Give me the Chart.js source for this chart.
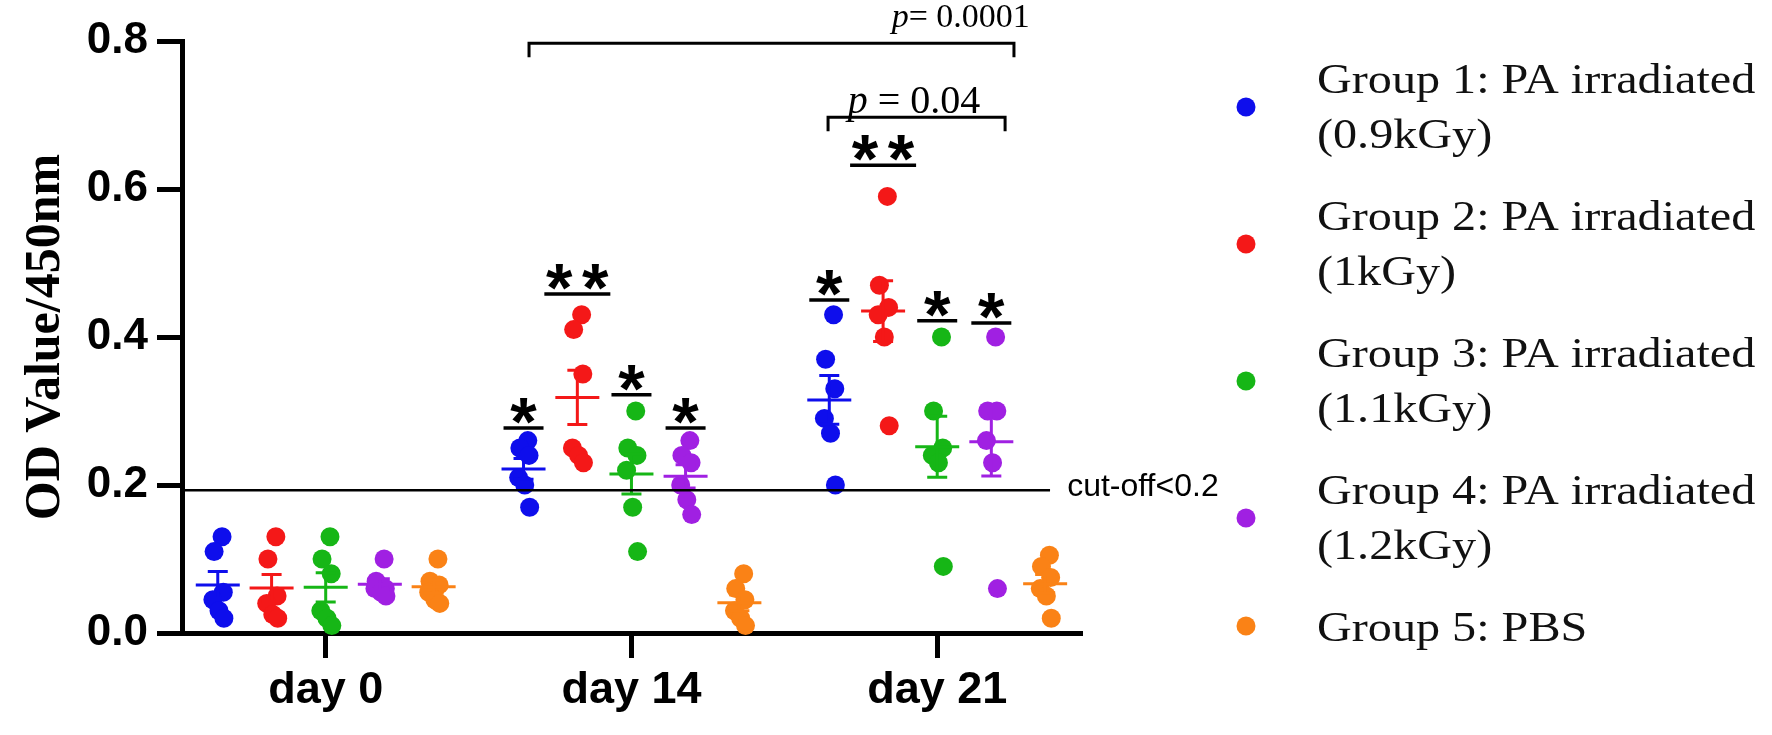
<!DOCTYPE html>
<html>
<head>
<meta charset="utf-8">
<script src="https://cdn.jsdelivr.net/npm/chart.js@4.4.1/dist/chart.umd.min.js"></script>
<style>
  html, body { margin: 0; padding: 0; background: #fff; }
  canvas { display: block; }
</style>
</head>
<body>
<canvas id="odChart" width="1772" height="735"></canvas>
<script>
// days on the x axis
const dayLabels = ['day 0', 'day 14', 'day 21'];
const yTicks = [0, 0.2, 0.4, 0.6, 0.8];

const groupNames = [
  ['Group 1: PA irradiated', '(0.9kGy)'],
  ['Group 2: PA irradiated', '(1kGy)'],
  ['Group 3: PA irradiated', '(1.1kGy)'],
  ['Group 4: PA irradiated', '(1.2kGy)'],
  ['Group 5: PBS']
];
const groupColors = ['#0e0eec', '#f41818', '#16b616', '#a020e2', '#fa8216'];

// OD values per group: [day 0, day 14, day 21], 6 mice each
const group1 = [[0.13, 0.11, 0.055, 0.045, 0.03, 0.02], [0.26, 0.25, 0.24, 0.21, 0.20, 0.17], [0.43, 0.37, 0.33, 0.29, 0.27, 0.20]];
const group2 = [[0.13, 0.10, 0.05, 0.04, 0.025, 0.02], [0.43, 0.41, 0.35, 0.25, 0.24, 0.23], [0.59, 0.47, 0.44, 0.43, 0.40, 0.28]];
const group3 = [[0.13, 0.10, 0.08, 0.03, 0.02, 0.01], [0.30, 0.25, 0.24, 0.22, 0.17, 0.11], [0.40, 0.30, 0.25, 0.24, 0.23, 0.09]];
const group4 = [[0.10, 0.07, 0.06, 0.06, 0.055, 0.05], [0.26, 0.24, 0.23, 0.20, 0.18, 0.16], [0.40, 0.30, 0.30, 0.26, 0.23, 0.06]];
const group5 = [[0.10, 0.07, 0.065, 0.055, 0.045, 0.04], [0.08, 0.06, 0.045, 0.03, 0.02, 0.01], [0.105, 0.09, 0.075, 0.06, 0.05, 0.02]];
const groups = [group1, group2, group3, group4, group5];

const cutoff = 0.193;

// significance marks (vs PBS)
const sigDay = [1, 1, 1, 1, 2, 2, 2, 2];
const sigGroup = [0, 1, 2, 3, 0, 1, 2, 3];
const sigLevel = [0.277, 0.458, 0.322, 0.277, 0.45, 0.632, 0.422, 0.419];
const sigStars = [1, 2, 1, 1, 1, 2, 1, 1];

// comparison brackets
const bracketFrom = [0.665, 1.643];
const bracketTo = [2.251, 2.222];
const bracketLevel = [0.797, 0.697];
const bracketText = ['0.0001', '0.04'];

// layout helpers
const groupOffset = [-0.353, -0.177, 0, 0.177, 0.353];
const jitter = [0.014, -0.012, 0.018, -0.016, 0.004, 0.02];

function mean(a) { return a.reduce((s, v) => s + v, 0) / a.length; }
function sem(a) {
  const m = mean(a);
  const sd = Math.sqrt(a.reduce((s, v) => s + (v - m) * (v - m), 0) / (a.length - 1));
  return sd / Math.sqrt(a.length);
}

const datasets = groups.map((g, gi) => ({
  label: groupNames[gi].join(' '),
  data: g.flatMap((vals, di) => vals.map((v, i) => ({ x: di + groupOffset[gi] + jitter[i], y: v }))),
  backgroundColor: groupColors[gi],
  borderWidth: 0,
  pointRadius: 9.5,
  clip: false
}));

const meanSem = {
  id: 'meanSem',
  afterDatasetsDraw(chart) {
    const { ctx, scales: { x, y } } = chart;
    ctx.save();
    ctx.lineWidth = 3;
    groups.forEach((g, gi) => {
      ctx.strokeStyle = groupColors[gi];
      g.forEach((vals, di) => {
        const cx = x.getPixelForValue(di + groupOffset[gi]);
        const m = mean(vals), s = sem(vals);
        const ym = y.getPixelForValue(m), yt = y.getPixelForValue(m + s), yb = y.getPixelForValue(m - s);
        ctx.beginPath();
        ctx.moveTo(cx - 22, ym); ctx.lineTo(cx + 22, ym);
        ctx.moveTo(cx, yt); ctx.lineTo(cx, yb);
        ctx.moveTo(cx - 10, yt); ctx.lineTo(cx + 10, yt);
        ctx.moveTo(cx - 10, yb); ctx.lineTo(cx + 10, yb);
        ctx.stroke();
      });
    });
    ctx.restore();
  }
};

const annotations = {
  id: 'annotations',
  afterDraw(chart) {
    const { ctx, scales: { x, y } } = chart;
    ctx.save();
    ctx.strokeStyle = '#000';
    ctx.fillStyle = '#000';

    // cut-off line
    const yc = y.getPixelForValue(cutoff);
    ctx.lineWidth = 2.5;
    ctx.beginPath();
    ctx.moveTo(x.left, yc);
    ctx.lineTo(x.getPixelForValue(2.369), yc);
    ctx.stroke();
    ctx.font = '32px "Liberation Sans", Arial, sans-serif';
    ctx.textAlign = 'left';
    ctx.textBaseline = 'alphabetic';
    ctx.fillText('cut-off<0.2', x.getPixelForValue(2.425), yc + 6);

    // stars
    ctx.font = 'bold 68px "Liberation Sans", Arial, sans-serif';
    ctx.textAlign = 'center';
    ctx.lineWidth = 3.5;
    sigDay.forEach((d, i) => {
      const cx = x.getPixelForValue(d + groupOffset[sigGroup[i]]);
      const yb = y.getPixelForValue(sigLevel[i]);
      const half = sigStars[i] === 2 ? 33 : 20;
      ctx.beginPath();
      ctx.moveTo(cx - half, yb); ctx.lineTo(cx + half, yb);
      ctx.stroke();
      if (sigStars[i] === 2) {
        ctx.fillText('*', cx - 18, yb + 17);
        ctx.fillText('*', cx + 18, yb + 17);
      } else {
        ctx.fillText('*', cx, yb + 17);
      }
    });

    // brackets with p values
    ctx.lineWidth = 3;
    bracketFrom.forEach((x0, i) => {
      const px0 = x.getPixelForValue(x0), px1 = x.getPixelForValue(bracketTo[i]);
      const py = y.getPixelForValue(bracketLevel[i]);
      ctx.beginPath();
      ctx.moveTo(px0, py + 14); ctx.lineTo(px0, py);
      ctx.lineTo(px1, py); ctx.lineTo(px1, py + 14);
      ctx.stroke();
    });
    ctx.textAlign = 'left';
    const serif = 'px "Liberation Serif", "Times New Roman", serif';

    // p= 0.0001, right aligned above the long bracket
    let fs = 34;
    let by = y.getPixelForValue(0.819);
    ctx.font = 'italic ' + fs + serif;
    const pw1 = ctx.measureText('p').width;
    ctx.font = fs + serif;
    const rest1 = '= ' + bracketText[0];
    const rw1 = ctx.measureText(rest1).width;
    let sx = x.getPixelForValue(2.303) - pw1 - rw1;
    ctx.font = 'italic ' + fs + serif;
    ctx.fillText('p', sx, by);
    ctx.font = fs + serif;
    ctx.fillText(rest1, sx + pw1, by);

    // p = 0.04, centred above the short bracket
    fs = 40;
    by = y.getPixelForValue(0.703);
    ctx.font = 'italic ' + fs + serif;
    const pw2 = ctx.measureText('p').width;
    ctx.font = fs + serif;
    const rest2 = ' = ' + bracketText[1];
    const rw2 = ctx.measureText(rest2).width;
    sx = x.getPixelForValue(1.924) - (pw2 + rw2) / 2;
    ctx.font = 'italic ' + fs + serif;
    ctx.fillText('p', sx, by);
    ctx.font = fs + serif;
    ctx.fillText(rest2, sx + pw2, by);

    ctx.restore();
  }
};

// legend on the right, drawn by hand because labels wrap onto two lines
const sideLegend = {
  id: 'sideLegend',
  afterDraw(chart) {
    const ctx = chart.ctx;
    ctx.save();
    ctx.textAlign = 'left';
    ctx.textBaseline = 'alphabetic';
    groupNames.forEach((lines, i) => {
      const base = 93 + 137 * i;
      const dotY = lines.length > 1 ? base + 14 : base - 15;
      ctx.fillStyle = groupColors[i];
      ctx.beginPath();
      ctx.arc(1246, dotY, 9.5, 0, Math.PI * 2);
      ctx.fill();
      ctx.fillStyle = '#111';
      lines.forEach((t, li) => {
        ctx.save();
        ctx.translate(1317, base + li * 55);
        ctx.scale(1.12, 1);
        ctx.font = '43px "Liberation Serif", "Times New Roman", serif';
        ctx.fillText(t, 0, 0);
        ctx.restore();
      });
    });
    ctx.restore();
  }
};

const axisGrid = { drawOnChartArea: false, drawTicks: true, tickLength: 25, tickWidth: 5, tickColor: '#000', lineWidth: 5, color: '#000' };
const axisBorder = { display: true, color: '#000', width: 5 };
const sans = '"Liberation Sans", Arial, sans-serif';

new Chart(document.getElementById('odChart'), {
  type: 'scatter',
  data: { datasets },
  options: {
    responsive: false,
    animation: false,
    layout: { padding: { top: 41, right: 692, left: 0, bottom: 0 } },
    plugins: { legend: { display: false }, tooltip: { enabled: false } },
    scales: {
      x: {
        type: 'linear', min: -0.47, max: 2.467,
        afterBuildTicks: s => { s.ticks = dayLabels.map((_, i) => ({ value: i })); },
        ticks: { callback: v => dayLabels[v] || '', color: '#000', padding: 6, maxRotation: 0, autoSkip: false,
                 font: { family: sans, weight: 'bold', size: 45 } },
        grid: axisGrid,
        border: axisBorder,
        afterFit: s => { s.height = 102; }
      },
      y: {
        min: 0, max: 0.8,
        afterBuildTicks: s => { s.ticks = yTicks.map(v => ({ value: v })); },
        ticks: { callback: v => v.toFixed(1), color: '#000', padding: 9,
                 font: { family: sans, weight: 'bold', size: 44 } },
        grid: axisGrid,
        border: axisBorder,
        title: { display: true, text: 'OD Value/450nm', color: '#000', padding: { top: 21, bottom: 0 },
                 font: { family: '"Liberation Serif", "Times New Roman", serif', weight: 'bold', size: 50, lineHeight: 1 } },
        afterFit: s => { s.width = 182; }
      }
    }
  },
  plugins: [meanSem, annotations, sideLegend]
});
</script>
</body>
</html>
